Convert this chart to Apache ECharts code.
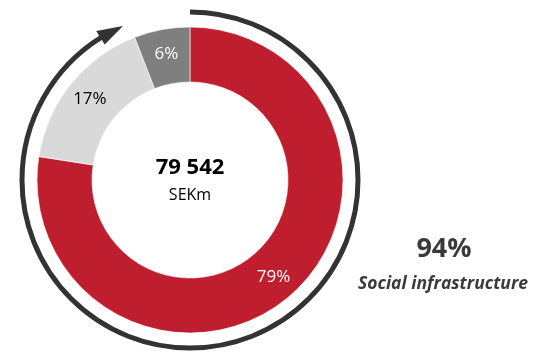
<!DOCTYPE html>
<html>
<head>
<meta charset="utf-8">
<script src="https://cdn.jsdelivr.net/npm/echarts@6/dist/echarts.min.js"></script>
<style>
html,body{margin:0;padding:0;background:#fff;}
#c{width:550px;height:354px;}
</style>
</head>
<body>
<div id="c"></div>
<script>
var categories = ['Social infrastructure A', 'Other', 'Other B'];
var values = [79, 17, 6];
var colors = ['#BE1E2D', '#D9D9D9', '#7F7F7F'];
var labelColors = ['#ffffff', '#000000', '#ffffff'];
var centerValue = '79 542';
var centerUnit = 'SEKm';
var sideValue = '94%';
var sideLabel = 'Social infrastructure';

var CX = 190, CY = 180, RING_R = 168;
var ARC_END_DEG = 328.6;  // clockwise from top
function polar(degFromTopCW, r) {
  var a = (degFromTopCW - 90) * Math.PI / 180;
  return [CX + r * Math.cos(a), CY + r * Math.sin(a)];
}
var tip = polar(360 - 23.5, RING_R);
var b1 = polar(ARC_END_DEG - 0.8, RING_R + 8);
var b2 = polar(ARC_END_DEG - 0.8, RING_R - 8);

var chart = echarts.init(document.getElementById('c'), null, {renderer: 'canvas'});
chart.setOption({
  animation: false,
  backgroundColor: '#ffffff',
  series: [{
    type: 'pie',
    center: [CX, CY],
    radius: [98, 153],
    startAngle: 90,
    clockwise: true,
    silent: true,
    avoidLabelOverlap: false,
    itemStyle: {borderColor: '#ffffff', borderWidth: 0.6},
    label: {
      show: true,
      position: 'inside',
      fontFamily: 'Open Sans',
      fontSize: 17,
      formatter: function (p) { return p.value + '%'; }
    },
    labelLine: {show: false},
    data: values.map(function (v, i) {
      return {
        name: categories[i], value: v,
        itemStyle: {color: colors[i]},
        label: {color: labelColors[i]}
      };
    })
  }],
  graphic: [
    {
      type: 'arc',
      shape: {cx: CX, cy: CY, r: RING_R, startAngle: -Math.PI / 2,
              endAngle: -Math.PI / 2 + ARC_END_DEG * Math.PI / 180, clockwise: true},
      style: {stroke: '#333333', lineWidth: 5, fill: null}
    },
    {
      type: 'polygon',
      shape: {points: [tip, b1, b2]},
      style: {fill: '#333333'}
    },
    {
      type: 'text', x: CX, y: 168,
      style: {text: centerValue, font: 'bold 22px "Open Sans"', fill: '#000000',
              align: 'center', verticalAlign: 'middle'}
    },
    {
      type: 'text', x: CX, y: 195,
      style: {text: centerUnit, font: '16px "Open Sans"', fill: '#000000',
              align: 'center', verticalAlign: 'middle'}
    },
    {
      type: 'text', x: 444, y: 249,
      style: {text: sideValue, font: 'bold 27px "Open Sans"', fill: '#3a3a3a',
              align: 'center', verticalAlign: 'middle'}
    },
    {
      type: 'text', x: 443, y: 284,
      style: {text: sideLabel, font: 'italic bold 17.5px "Open Sans"', fill: '#3a3a3a',
              align: 'center', verticalAlign: 'middle'}
    }
  ]
});
</script>
</body>
</html>
